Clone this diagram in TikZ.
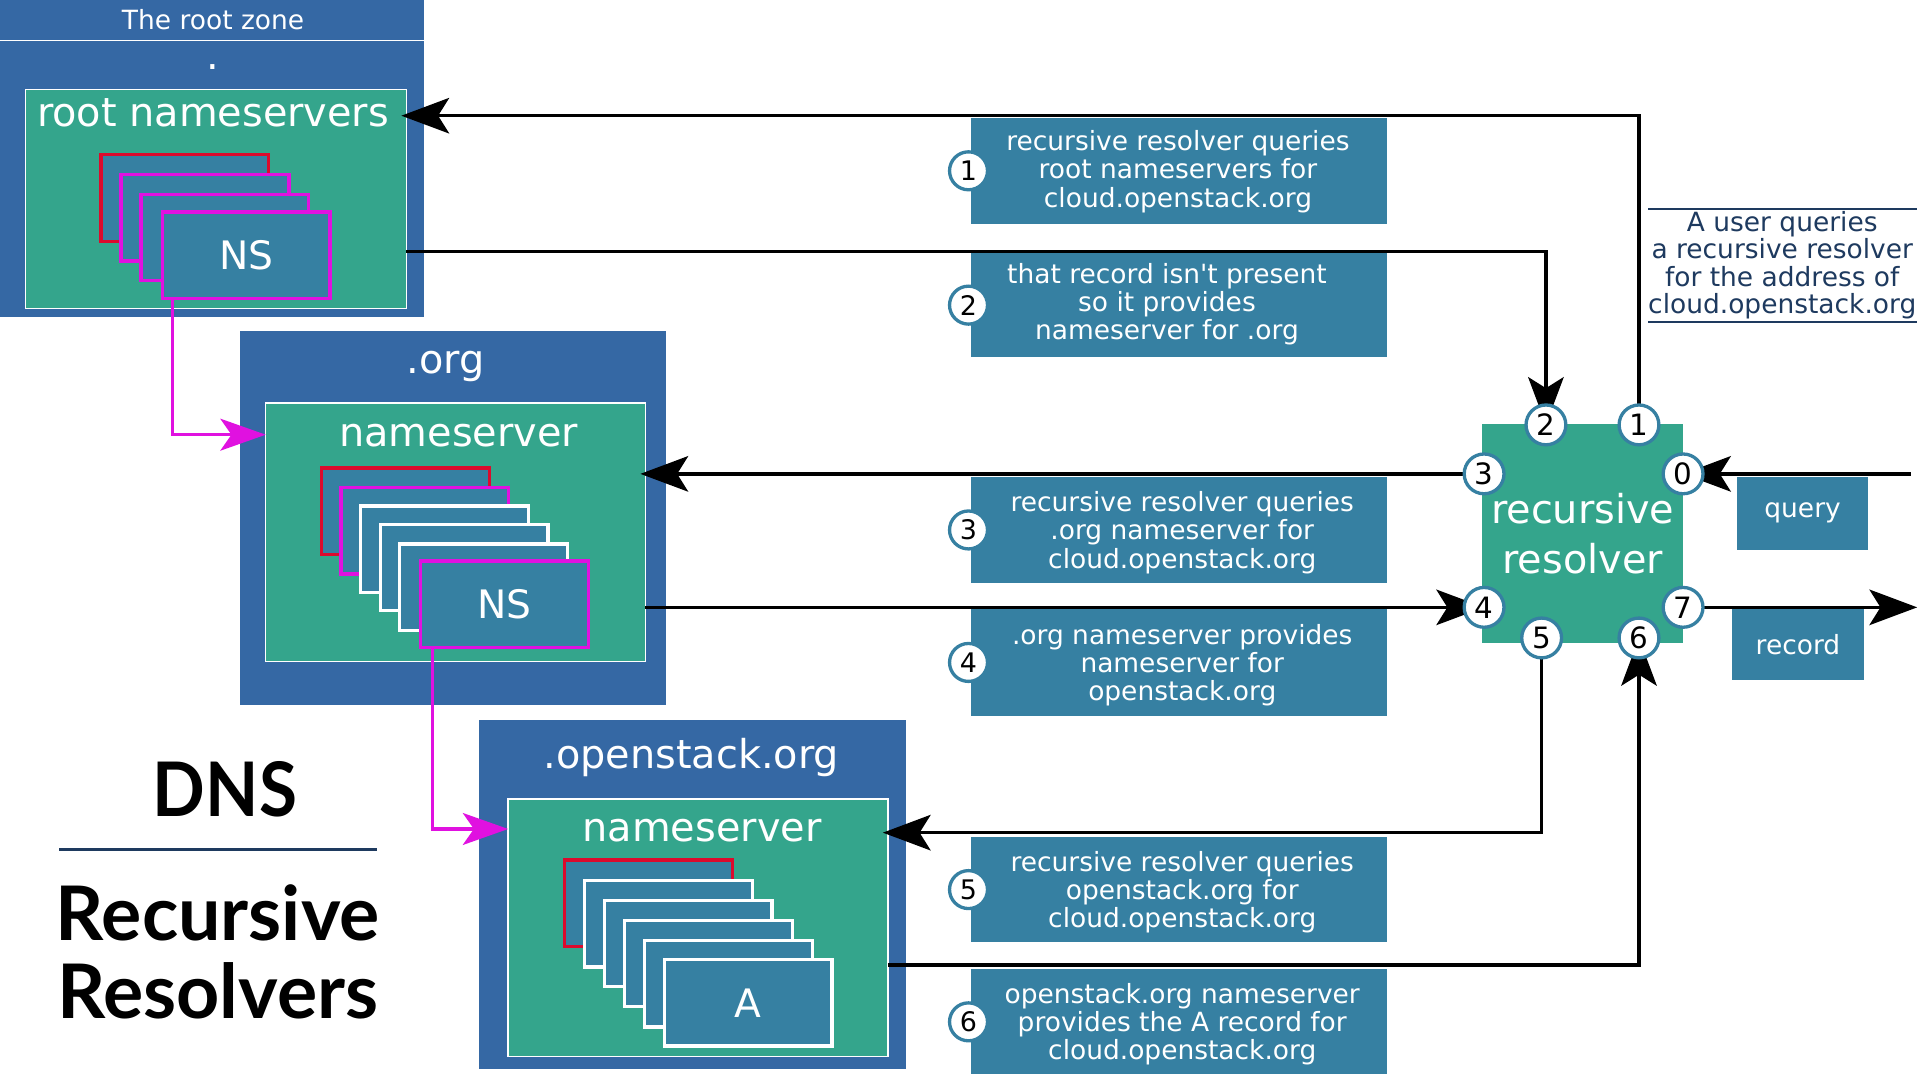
\documentclass[tikz,border=0pt]{standalone}
\usepackage{fontspec}
\usepackage{graphicx}
\setmainfont{DejaVu Sans}
\newfontfamily\latofont{Lato}
\usetikzlibrary{arrows.meta}
\definecolor{zoneblue}{HTML}{3568A4}
\definecolor{nsgreen}{HTML}{34A58C}
\definecolor{cardblue}{HTML}{3680A2}
\definecolor{cardred}{HTML}{DC0A2D}
\definecolor{cardmag}{HTML}{E011E0}
\definecolor{navy}{HTML}{1E3A5F}
\newcommand{\fsz}[2]{\fontsize{#1}{#2}\selectfont}
\begin{document}
\begin{tikzpicture}[x=1pt,y=-1pt,
 zone/.style={fill=zoneblue,draw=none,anchor=north west,inner sep=0pt,outer sep=0pt},
 nsbox/.style={fill=nsgreen,draw=white,line width=1.2pt,anchor=north west,inner sep=0pt,outer sep=0pt},
 card/.style={fill=cardblue,line width=2.7pt,minimum width=137pt,minimum height=70.5pt,inner sep=0pt,text=white,font=\fsz{32}{38}},
 zonetitle/.style={text=white,anchor=base,inner sep=0pt,font=\fsz{32.5}{40}},
 lblbox/.style={fill=cardblue,draw=none,minimum width=339.7pt,inner sep=0pt},
 lbltext/.style={text=white,align=center,inner sep=0pt,font=\fsz{21.6}{23.1}},
 num/.style={circle,fill=white,draw=cardblue,line width=2.7pt,minimum size=32.5pt,inner sep=0pt,font=\fsz{24}{28}},
 lnum/.style={num,minimum size=31pt,font=\fsz{22}{26}},
 flow/.style={line width=2.7pt,-{Stealth[length=39pt,width=29pt,inset=9pt]}},
 mflow/.style={line width=2.7pt,draw=cardmag,-{Stealth[length=37pt,width=26pt,inset=9pt]}},
 smallbox/.style={fill=cardblue,draw=none,inner sep=0pt,text=white,font=\fsz{21.6}{26}},
 noteline/.style={draw=navy,line width=1.6pt},
 titletext/.style={anchor=base,inner sep=0pt,font=\latofont\bfseries\fsz{61.5}{64}}
]
\useasboundingbox (0,0) rectangle (1568,882);
\fill[white] (0,0) rectangle (1568,882);

% zones
\node[zone,minimum width=346pt,minimum height=259pt] (rootzone) at (0,0) {};
\draw[white,line width=1.2pt] ([yshift=-33pt]rootzone.north west) -- ([yshift=-33pt]rootzone.north east);
\node[nsbox,minimum width=311pt,minimum height=179pt] (rootns) at (20.8,73) {};

\node[zone,minimum width=347.6pt,minimum height=306pt] (orgzone) at (196,270) {};
\node[nsbox,minimum width=310pt,minimum height=211.4pt] (orgns) at (217,329) {};

\node[zone,minimum width=349pt,minimum height=285pt] (oszone) at (391,588) {};
\node[nsbox,minimum width=310pt,minimum height=210.5pt] (osns) at (415,652.5) {};

% cards: root
\node[card,draw=cardred] (rc1) at (151,161.7) {};
\node[card,draw=cardmag] (rc2) at (167.4,177.8) {};
\node[card,draw=cardmag] (rc3) at (183.7,194) {};
\node[card,draw=cardmag] (rns) at (201,208.5) {NS};

% cards: org
\node[card,draw=cardred] (oc1) at (331,417.5) {};
\node[card,draw=cardmag] (oc2) at (347,433.5) {};
\node[card,draw=white] (oc3) at (363,448.5) {};
\node[card,draw=white] (oc4) at (379,463.5) {};
\node[card,draw=white] (oc5) at (395,479.5) {};
\node[card,draw=cardmag] (ons) at (412,493.5) {NS};

% cards: openstack
\node[card,draw=cardred] (sc1) at (529.5,737.5) {};
\node[card,draw=white] (sc2) at (546,754.5) {};
\node[card,draw=white] (sc3) at (562,770.5) {};
\node[card,draw=white] (sc4) at (578.5,787) {};
\node[card,draw=white] (sc5) at (595,803.5) {};
\node[card,draw=white] (sa) at (611,819) {A};

% zone titles
\node[zonetitle,font=\fsz{21.6}{26}] (rztitle) at (174,24.5) {The root zone};
\node[zonetitle] (rzdot) at (174,56.7) {.};
\node[zonetitle] (rnstitle) at (174,103) {root nameservers};
\node[zonetitle] (orgtitle) at (364,305) {.org};
\node[zonetitle] (orgnstitle) at (374.6,364.8) {nameserver};
\node[zonetitle] (ostitle) at (564.5,628) {.openstack.org};
\node[zonetitle] (osnstitle) at (573.3,687.4) {nameserver};

% label boxes
\node[lblbox,minimum height=87pt] (b1) at (962.5,139.5) {};
\node[lblbox,minimum height=84.7pt] (b2) at (962.5,249.2) {};
\node[lblbox,minimum height=87pt] (b3) at (962.5,432.8) {};
\node[lblbox,minimum height=87pt] (b4) at (962.5,541) {};
\node[lblbox,minimum height=86pt] (b5) at (962.5,726.5) {};
\node[lblbox,minimum height=86pt] (b6) at (962.5,834.5) {};

\node[lbltext] (t1) at (962,140.2) {recursive resolver queries\\root nameservers for\\cloud.openstack.org};
\node[lbltext] (t2) at (953,248.5) {that record isn\textquotesingle t present\\so it provides\\nameserver for .org};
\node[lbltext] (t3) at (965.5,435) {recursive resolver queries\\.org nameserver for\\cloud.openstack.org};
\node[lbltext] (t4) at (965.5,543.2) {.org nameserver provides\\nameserver for\\openstack.org};
\node[lbltext] (t5) at (965.5,728.5) {recursive resolver queries\\openstack.org for\\cloud.openstack.org};
\node[lbltext] (t6) at (965.5,836.5) {openstack.org nameserver\\provides the A record for\\cloud.openstack.org};

% query / record
\node[smallbox,minimum width=107pt,minimum height=59.6pt] (query) at (1472.1,419.2) {\raisebox{-2pt}{query}};
\node[smallbox,minimum width=107.4pt,minimum height=58pt] (record) at (1468.3,526.3) {record};

% note
\node[text=navy,align=center,inner sep=0pt,font=\fsz{21.6}{22.4}] (note) at (1455.5,216.6) {A user queries\\a recursive resolver\\for the address of\\cloud.openstack.org};
\draw[noteline] (1346,170.4) -- (1565.5,170.4);
\draw[noteline] (1346,262.7) -- (1565.5,262.7);

% resolver
\node[fill=nsgreen,minimum width=164pt,minimum height=179pt,inner sep=0pt,text=white,align=center,font=\fsz{32.5}{41}] (rr) at (1292.5,435.5) {recursive\\resolver};

% circle positions
\coordinate (p0) at (1374.5,387);
\coordinate (p1) at (1338.5,347);
\coordinate (p2) at (1262.5,347);
\coordinate (p3) at (1212,387);
\coordinate (p4) at (1212,496);
\coordinate (p5) at (1259,521);
\coordinate (p6) at (1338.5,521);
\coordinate (p7) at (1374.5,496);

% flow arrows
\coordinate (y1) at (0,94.5);
\coordinate (y2) at (0,205.5);
\coordinate (y5) at (0,680);
\coordinate (y6) at (0,788);
\coordinate (qin) at (1560.6,387);
\coordinate (rout) at (1565.7,496);
\draw[flow] (p1) |- ([xshift=-4pt]rootns.east |- y1);
\draw[flow] (rootns.east |- y2) -| (p2);
\draw[flow] (p3) -- ([xshift=-4pt]orgns.east |- p3);
\draw[flow] (orgns.east |- p4) -- (p4);
\draw[flow] (p5) |- ([xshift=-4pt]osns.east |- y5);
\draw[flow] (osns.east |- y6) -| (p6);
\draw[flow] (qin) -- (p0);
\draw[flow] (p7) -- (rout);

% magenta delegation arrows
\coordinate (m1) at (0,355);
\coordinate (m2) at (0,677);
\draw[mflow] ([xshift=9.5pt]rns.south west) |- (orgns.west |- m1);
\draw[mflow] ([xshift=11pt]ons.south west) |- (osns.west |- m2);

% circles
\node[num] (c0) at (p0) {0};
\node[num] (c1) at (p1) {1};
\node[num] (c2) at (p2) {2};
\node[num] (c3) at (p3) {3};
\node[num] (c4) at (p4) {4};
\node[num] (c5) at (p5) {5};
\node[num] (c6) at (p6) {6};
\node[num] (c7) at (p7) {7};

\node[lnum] (n1) at ([xshift=-1.5pt]b1.west) {1};
\node[lnum] (n2) at ([xshift=-1.5pt]b2.west) {2};
\node[lnum] (n3) at ([xshift=-1.5pt]b3.west) {3};
\node[lnum] (n4) at ([xshift=-1.5pt]b4.west) {4};
\node[lnum] (n5) at ([xshift=-1.5pt]b5.west) {5};
\node[lnum] (n6) at ([xshift=-1.5pt]b6.west) {6};

% title
\node[titletext] (dns) at (183.7,666.4) {\scalebox{0.92}[1]{DNS}};
\draw[navy,line width=2.2pt] (48.5,693.6) -- (308,693.6);
\node[titletext] (rec) at (177.9,768) {Recursive};
\node[titletext] (res) at (177.9,831.6) {Resolvers};
\end{tikzpicture}
\end{document}
